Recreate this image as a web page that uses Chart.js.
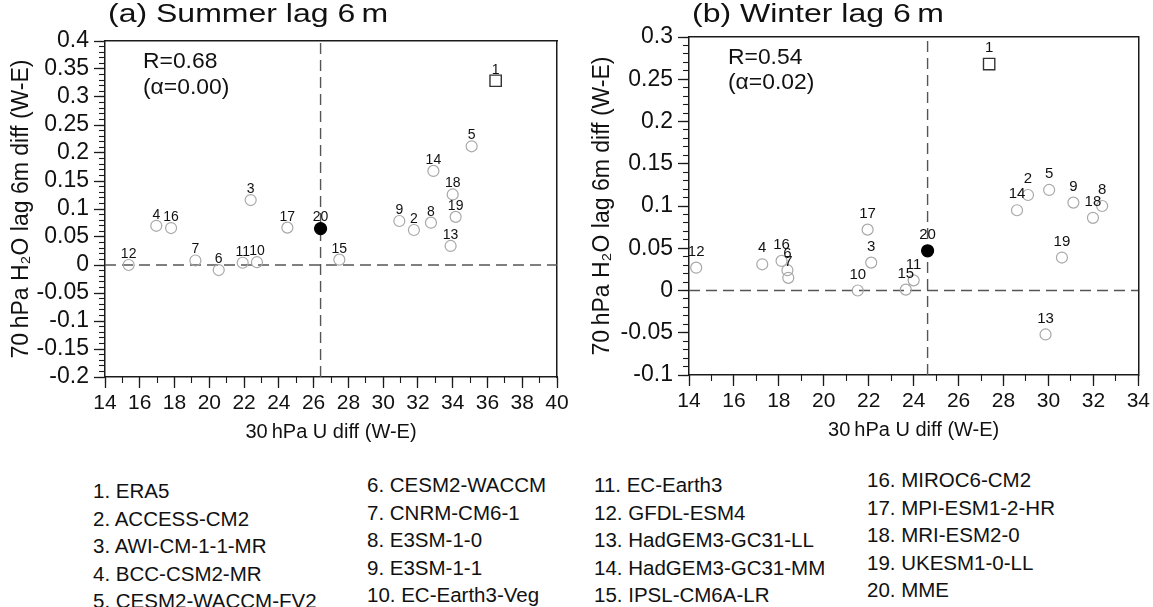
<!DOCTYPE html>
<html>
<head>
<meta charset="utf-8">
<script src="https://cdn.jsdelivr.net/npm/chart.js@4.4.1/dist/chart.umd.min.js"></script>
<style>
  html, body { margin: 0; padding: 0; background: #fff; }
  body { width: 1153px; height: 607px; position: relative; overflow: hidden; font-family: "Liberation Sans", Arial, Helvetica, sans-serif; }
  canvas { position: absolute; }
  #cA { left: 0; top: 0; }
  #cB { left: 580px; top: 0; }
  .leg { position: absolute; font-size: 20.5px; line-height: 24px; color: #111; white-space: nowrap; }
</style>
</head>
<body>
<canvas id="cA" width="580" height="447"></canvas>
<canvas id="cB" width="573" height="445"></canvas>
<div id="legend"></div>
<script>
// ---------------- data ----------------
const models = ["ERA5", "ACCESS-CM2", "AWI-CM-1-1-MR", "BCC-CSM2-MR", "CESM2-WACCM-FV2",
  "CESM2-WACCM", "CNRM-CM6-1", "E3SM-1-0", "E3SM-1-1", "EC-Earth3-Veg",
  "EC-Earth3", "GFDL-ESM4", "HadGEM3-GC31-LL", "HadGEM3-GC31-MM", "IPSL-CM6A-LR",
  "MIROC6-CM2", "MPI-ESM1-2-HR", "MRI-ESM2-0", "UKESM1-0-LL", "MME"];

// (a) Summer lag 6 m
const summerU = [36.47, 31.77, 22.38, 16.95, 35.09, 20.54, 19.20, 32.75, 30.93, 22.74,
  21.92, 15.36, 33.88, 32.89, 27.48, 17.80, 24.49, 34.00, 34.17, 26.40];
const summerH2O = [0.329, 0.0625, 0.116, 0.070, 0.212, -0.009, 0.008, 0.0756, 0.0786, 0.005,
  0.004, 0.000, 0.034, 0.168, 0.0095, 0.066, 0.0667, 0.126, 0.086, 0.065];

// (b) Winter lag 6 m
const winterU = [27.36, 29.09, 22.11, 17.26, 30.03, 18.38, 18.42, 32.39, 31.11, 21.51,
  24.00, 14.32, 29.87, 28.60, 23.65, 18.12, 21.95, 31.98, 30.60, 24.62];
const winterH2O = [0.268, 0.113, 0.033, 0.031, 0.119, 0.024, 0.015, 0.100, 0.104, 0.000,
  0.012, 0.027, -0.052, 0.095, 0.001, 0.035, 0.072, 0.086, 0.039, 0.047];

// axis ranges / ticks
const summerXTicks = [14, 40, 2, 1];      // min, max, major step, minor step
const summerYTicks = [-0.2, 0.4, 0.05, 0.01];
const winterXTicks = [14, 34, 2, 1];
const winterYTicks = [-0.1, 0.3, 0.05, 0.01];

const titles = ["(a) Summer lag 6\u2009m", "(b) Winter lag 6\u2009m"];
const stats = [["R=0.68", "(\u03B1=0.00)"], ["R=0.54", "(\u03B1=0.02)"]];
const xTitle = "30\u2009hPa U diff (W-E)";
const yTitle = "70\u2009hPa H\u2082O lag 6m diff (W-E)";

// ---------------- helpers ----------------
const FONT = "'Liberation Sans', Arial, Helvetica, sans-serif";
const AXIS = '#1a1a1a';

function fmt(v) { return String(Math.round(v * 100) / 100); }

function wideText(ctx, t, x, y, sx) {
  ctx.save();
  ctx.translate(x, y);
  ctx.scale(sx, 1);
  ctx.fillText(t, 0, 0);
  ctx.restore();
}

function makeChart(canvasId, xs, ys, xT, yT, title, stat, geo) {
  const pts = xs.map((x, i) => ({x: x, y: ys[i]}));
  const mme = pts[pts.length - 1];
  const n = pts.length;

  const textPlugin = {
    id: 'texts_' + canvasId,
    afterDatasetsDraw(chart) {
      const ctx = chart.ctx;
      const ca = chart.chartArea;
      const meta = chart.getDatasetMeta(0);
      ctx.save();
      ctx.fillStyle = '#111';
      ctx.textAlign = 'center';
      ctx.textBaseline = 'middle';
      ctx.font = geo.labelSize + 'px ' + FONT;
      meta.data.forEach((el, i) => {
        ctx.fillText(String(i + 1), el.x, el.y - geo.labelOff);
      });
      ctx.textAlign = 'left';
      ctx.font = geo.statSize + 'px ' + FONT;
      wideText(ctx, stat[0], ca.left + geo.statDx, ca.top + 21, 1.04);
      wideText(ctx, stat[1], ca.left + geo.statDx, ca.top + 21 + geo.statGap, 1.04);
      ctx.font = geo.titleSize + 'px ' + FONT;
      wideText(ctx, title, ca.left + 3, 15, 1.28);
      ctx.restore();
    }
  };

  const fixW = w => (s => { s.width = w; });
  const fixH = h => (s => { s.height = h; });

  return new Chart(document.getElementById(canvasId), {
    type: 'scatter',
    data: {
      datasets: [
        {
          data: pts,
          order: 0,
          pointStyle: c => c.dataIndex === 0 ? 'rect' : 'circle',
          pointRadius: c => c.dataIndex === 0 ? 8 : (c.dataIndex === n - 1 ? 6 : 5.5),
          pointHoverRadius: c => c.dataIndex === 0 ? 8 : (c.dataIndex === n - 1 ? 6 : 5.5),
          pointBorderColor: c => c.dataIndex === 0 ? '#333' : (c.dataIndex === n - 1 ? '#000' : '#a8a8a8'),
          pointBackgroundColor: c => c.dataIndex === n - 1 ? '#000' : 'rgba(0,0,0,0)',
          pointBorderWidth: c => c.dataIndex === 0 ? 1.4 : 1.2,
          showLine: false
        },
        {
          type: 'line', order: 1,
          data: [{x: mme.x, y: yT[0]}, {x: mme.x, y: yT[1]}],
          borderColor: '#555', borderWidth: 1.4, borderDash: [11, 6], pointRadius: 0, fill: false
        },
        {
          type: 'line', order: 1,
          data: [{x: xT[0], y: 0}, {x: xT[1], y: 0}],
          borderColor: '#555', borderWidth: 1.4, borderDash: [11, 6], pointRadius: 0, fill: false
        }
      ]
    },
    options: {
      responsive: false,
      animation: false,
      devicePixelRatio: 1,
      layout: {padding: {left: 0, top: geo.top, right: geo.right, bottom: 0}},
      plugins: {legend: {display: false}, tooltip: {enabled: false}},
      scales: {
        x: {
          type: 'linear', position: 'bottom', weight: 1,
          min: xT[0], max: xT[1],
          ticks: {stepSize: xT[2], autoSkip: false, maxRotation: 0, font: {family: FONT, size: 21}, color: '#111', padding: 3, callback: v => fmt(v)},
          grid: {drawOnChartArea: false, tickLength: 11, tickColor: AXIS, tickWidth: 1.3},
          border: {display: true, color: AXIS, width: 1.5},
          title: {display: true, text: xTitle, font: {family: FONT, size: 20}, color: '#111', padding: {top: 4, bottom: 3}},
          afterFit: fixH(geo.xH)
        },
        xm: {
          type: 'linear', position: 'bottom', weight: 0,
          min: xT[0], max: xT[1],
          ticks: {stepSize: xT[3], display: false, autoSkip: false},
          grid: {drawOnChartArea: false, tickLength: 6, tickColor: AXIS, tickWidth: 1.1},
          border: {display: false},
          afterFit: fixH(0)
        },
        y: {
          type: 'linear', position: 'left', weight: 1,
          min: yT[0], max: yT[1],
          ticks: {stepSize: yT[2], autoSkip: false, font: {family: FONT, size: 23}, color: '#111', padding: 5, callback: v => fmt(v)},
          grid: {drawOnChartArea: false, tickLength: 11, tickColor: AXIS, tickWidth: 1.3},
          border: {display: true, color: AXIS, width: 1.5},
          title: {display: true, text: yTitle, font: {family: FONT, size: 23}, color: '#111', padding: {top: geo.yTitlePad, bottom: 4}},
          afterFit: fixW(geo.yW)
        },
        ym: {
          type: 'linear', position: 'left', weight: 0,
          min: yT[0], max: yT[1],
          ticks: {stepSize: yT[3], display: false, autoSkip: false},
          grid: {drawOnChartArea: false, tickLength: 6, tickColor: AXIS, tickWidth: 1.1},
          border: {display: false},
          afterFit: fixW(0)
        },
        xt: {
          type: 'linear', position: 'top', min: xT[0], max: xT[1],
          ticks: {display: false}, grid: {display: false, drawTicks: false},
          border: {display: true, color: AXIS, width: 1.5},
          afterFit: fixH(0)
        },
        yr: {
          type: 'linear', position: 'right', min: yT[0], max: yT[1],
          ticks: {display: false}, grid: {display: false, drawTicks: false},
          border: {display: true, color: AXIS, width: 1.5},
          afterFit: fixW(0)
        }
      }
    },
    plugins: [textPlugin]
  });
}

makeChart('cA', summerU, summerH2O, summerXTicks, summerYTicks, titles[0], stats[0],
  {top: 41, right: 23, xH: 70, yW: 105, yTitlePad: 8, labelOff: 11, labelSize: 14, statSize: 22, statDx: 38, statGap: 26, titleSize: 25});
makeChart('cB', winterU, winterH2O, winterXTicks, winterYTicks, titles[1], stats[1],
  {top: 37, right: 12, xH: 70, yW: 109, yTitlePad: 9, labelOff: 16, labelSize: 15, statSize: 22, statDx: 39, statGap: 25, titleSize: 25});

// ---------------- legend (real text) ----------------
const legCols = [93, 367, 594, 867];
const legTop = [479, 473, 473, 468];
const legStep = 27.5;
const legEl = document.getElementById('legend');
models.forEach((m, i) => {
  const c = Math.floor(i / 5), r = i % 5;
  const d = document.createElement('div');
  d.className = 'leg';
  d.textContent = (i + 1) + '. ' + m;
  d.style.left = legCols[c] + 'px';
  d.style.top = (legTop[c] + r * legStep) + 'px';
  legEl.appendChild(d);
});
</script>
</body>
</html>
